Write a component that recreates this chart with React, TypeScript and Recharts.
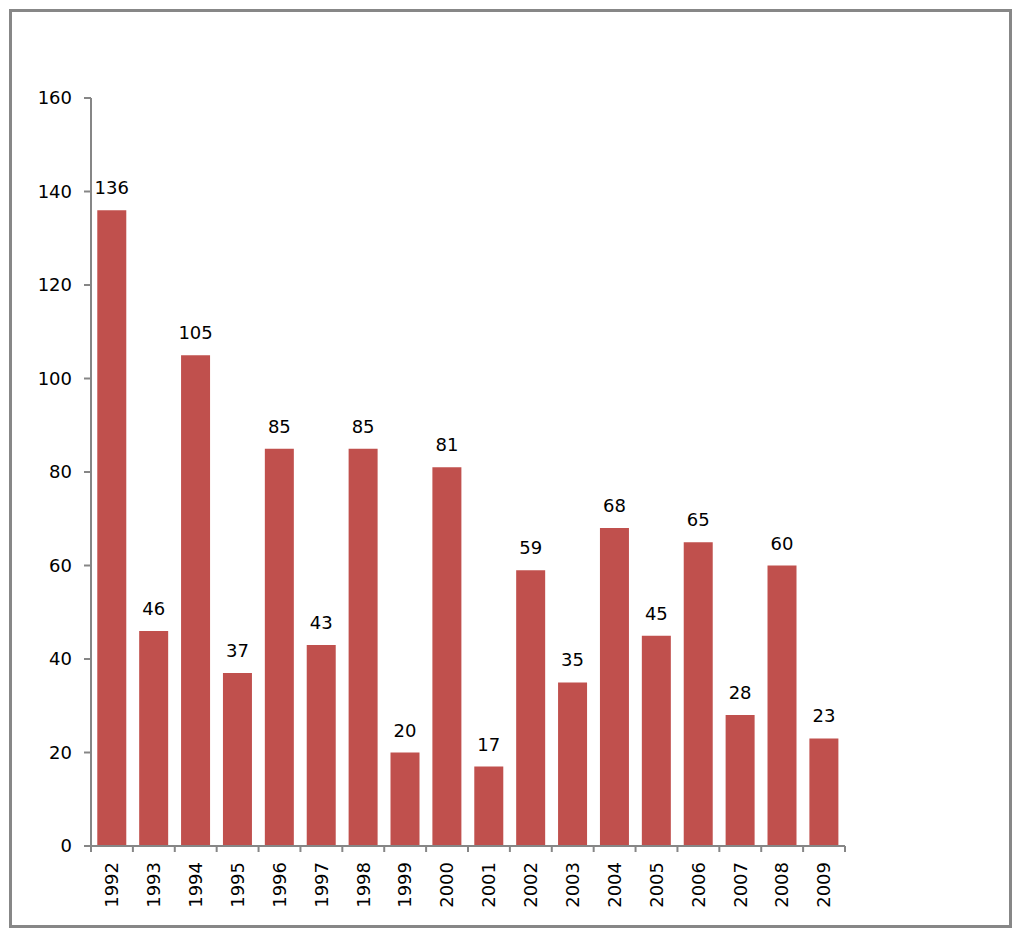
import { Bar, BarChart, LabelList, XAxis, YAxis } from "recharts"

const years = ["1992", "1993", "1994", "1995", "1996", "1997", "1998", "1999", "2000",
  "2001", "2002", "2003", "2004", "2005", "2006", "2007", "2008", "2009"]
const counts = [136, 46, 105, 37, 85, 43, 85, 20, 81, 17, 59, 35, 68, 45, 65, 28, 60, 23]
const yTicks = [0, 20, 40, 60, 80, 100, 120, 140, 160]

const data = years.map((year, i) => ({ year, value: counts[i] }))

const W = 997
const H = 913
const margin = { top: 86, right: 164, bottom: 9, left: 19 }
const yAxisWidth = 60
const band = (W - margin.left - margin.right - yAxisWidth) / years.length

const font = "'DejaVu Sans', Verdana, sans-serif"
const axisGray = "#868686"

const YearTick = (props: any) => {
  const { x, y, payload, index } = props
  const left = x - band / 2
  const right = x + band / 2
  return (
    <g>
      <line x1={left} y1={y} x2={left} y2={y + 6} stroke={axisGray} strokeWidth={2} />
      {index === years.length - 1 && (
        <line x1={right} y1={y} x2={right} y2={y + 6} stroke={axisGray} strokeWidth={2} />
      )}
      <text
        x={x}
        y={y + 16}
        dy="0.35em"
        textAnchor="end"
        transform={`rotate(-90, ${x}, ${y + 16})`}
        fontFamily={font}
        fontSize={18}
        fill="#000"
      >
        {payload.value}
      </text>
    </g>
  )
}

export default function App() {
  return (
    <div
      style={{
        position: "absolute",
        left: 9,
        top: 9,
        width: W + 6,
        height: H + 6,
        boxSizing: "border-box",
        border: "3px solid #878787",
        background: "#fff",
      }}
    >
      <BarChart width={W} height={H} data={data} margin={margin} barCategoryGap="15%">
        <XAxis
          dataKey="year"
          height={70}
          interval={0}
          tickLine={false}
          tickSize={0}
          tickMargin={0}
          axisLine={{ stroke: axisGray, strokeWidth: 2 }}
          tick={<YearTick />}
        />
        <YAxis
          width={yAxisWidth}
          domain={[0, 160]}
          ticks={yTicks}
          interval={0}
          tickSize={7}
          tickMargin={12}
          axisLine={{ stroke: axisGray, strokeWidth: 2 }}
          tickLine={{ stroke: axisGray, strokeWidth: 2 }}
          tick={{ fontFamily: font, fontSize: 18, fill: "#000" }}
        />
        <Bar dataKey="value" fill="#C0504D" isAnimationActive={false}>
          <LabelList
            dataKey="value"
            position="top"
            offset={16}
            style={{ fontFamily: font, fontSize: 18, fill: "#000" }}
          />
        </Bar>
      </BarChart>
    </div>
  )
}
